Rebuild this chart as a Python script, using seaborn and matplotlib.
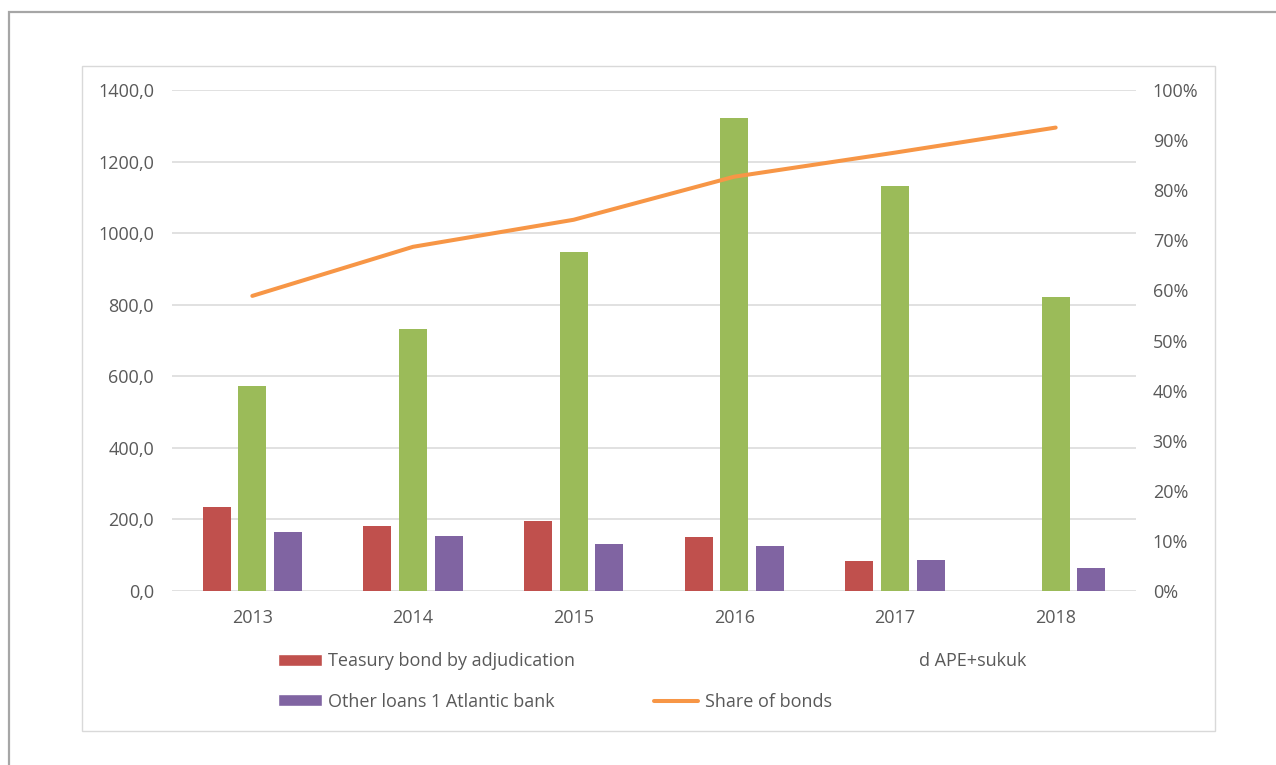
import numpy as np
import pandas as pd
import matplotlib
matplotlib.use("Agg")
import matplotlib.pyplot as plt
from matplotlib.patches import Patch, Rectangle
from matplotlib.lines import Line2D
import seaborn as sns

# ---- data -------------------------------------------------------------
years = ["2013", "2014", "2015", "2016", "2017", "2018"]
treasury_adjudication = [236.0, 183.0, 197.0, 150.0, 83.0, 0.0]
treasury_ape_sukuk = [573.0, 731.0, 948.0, 1323.0, 1131.0, 822.0]
other_loans = [165.0, 155.0, 130.0, 126.0, 88.0, 63.0]
share_of_bonds = [0.589, 0.687, 0.741, 0.827, 0.875, 0.925]

series_names = [
    "Teasury bond by adjudication",
    "Treasury bonds syndicated APE+sukuk",
    "Other loans 1 Atlantic bank",
]
line_name = "Share of bonds"

left_ticks = [0, 200, 400, 600, 800, 1000, 1200, 1400]
right_ticks = [0.0, 0.1, 0.2, 0.3, 0.4, 0.5, 0.6, 0.7, 0.8, 0.9, 1.0]

# ---- style ------------------------------------------------------------
sns.set_style("white")
plt.rcParams["font.family"] = ["Open Sans", "DejaVu Sans"]
TEXT = "#595959"
GRID = "#D9D9D9"
FS = 13
bar_colors = ["#C0504D", "#9BBB59", "#8064A2"]
line_color = "#F79646"

W, H = 1276, 765
fig = plt.figure(figsize=(W / 100, H / 100), dpi=100)
fig.patch.set_facecolor("white")

ax = fig.add_axes([172 / W, 1 - 591 / H, (1136 - 172) / W, (591 - 90) / H])

df = pd.DataFrame({
    "year": np.tile(years, 3),
    "value": np.concatenate([treasury_adjudication, treasury_ape_sukuk, other_loans]),
    "series": np.repeat(series_names, len(years)),
})

sns.barplot(
    data=df, x="year", y="value", hue="series", hue_order=series_names,
    palette=bar_colors, saturation=1, width=0.667, gap=0.216,
    errorbar=None, legend=False, linewidth=0, ax=ax, zorder=3,
)

ax.set_ylim(0, 1400)
ax.set_yticks(left_ticks)
ax.set_yticklabels([f"{v:.1f}".replace(".", ",") for v in left_ticks])
ax.yaxis.grid(True, color=GRID, linewidth=1.1, zorder=0)
ax.set_axisbelow(True)
ax.set_xlabel("")
ax.set_ylabel("")
for s in ax.spines.values():
    s.set_visible(False)
ax.tick_params(axis="y", length=0, pad=13, labelsize=FS, labelcolor=TEXT)
ax.tick_params(axis="x", length=0, pad=13, labelsize=FS, labelcolor=TEXT)

# share of bonds on the secondary axis
ax2 = ax.twinx()
sns.lineplot(
    x=np.arange(len(years)), y=share_of_bonds, ax=ax2, color=line_color,
    linewidth=2.9, solid_capstyle="round", legend=False,
)
ax2.set_ylim(0, 1.0)
ax2.set_yticks(right_ticks)
ax2.set_yticklabels([f"{int(round(v * 100))}%" for v in right_ticks])
ax2.tick_params(axis="y", length=0, pad=12, labelsize=FS, labelcolor=TEXT)
ax2.grid(False)
for s in ax2.spines.values():
    s.set_visible(False)
ax2.set_ylabel("")
ax.set_xlim(-0.5, len(years) - 0.5)

# ---- legend -----------------------------------------------------------
handles = [
    Patch(facecolor=bar_colors[0], label=series_names[0]),
    Patch(facecolor=bar_colors[2], label=series_names[2]),
    Patch(facecolor=bar_colors[1], label=series_names[1]),
    Line2D([], [], color=line_color, linewidth=2.9, solid_capstyle="round", label=line_name),
]
leg = fig.legend(
    handles=handles, ncol=2, loc="upper left",
    bbox_to_anchor=(278 / W, 1 - 652 / H), frameon=False, borderpad=0,
    fontsize=FS, handlelength=2.44, handleheight=0.65, handletextpad=0.35,
    columnspacing=4.37, labelspacing=1.26, borderaxespad=0,
)
for t in leg.get_texts():
    t.set_color(TEXT)

# white panel laid over the start of the second legend entry
fig.patches.append(Rectangle(
    (643 / W, 1 - 691 / H), (918 - 643) / W, (691 - 644) / H,
    transform=fig.transFigure, facecolor="white", edgecolor="none", zorder=10,
))

# chart area border and outer frame
fig.patches.append(Rectangle(
    (82 / W, 1 - 731 / H), (1215 - 82) / W, (731 - 66) / H,
    transform=fig.transFigure, facecolor="none", edgecolor=GRID,
    linewidth=1.0, zorder=-1,
))
fig.patches.append(Rectangle(
    (9 / W, -0.1), 1.2, (1 - 12 / H) + 0.1,
    transform=fig.transFigure, facecolor="none", edgecolor="#A6A6A6",
    linewidth=1.6, zorder=-1,
))

fig.savefig("out.png", dpi=100, facecolor="white")
